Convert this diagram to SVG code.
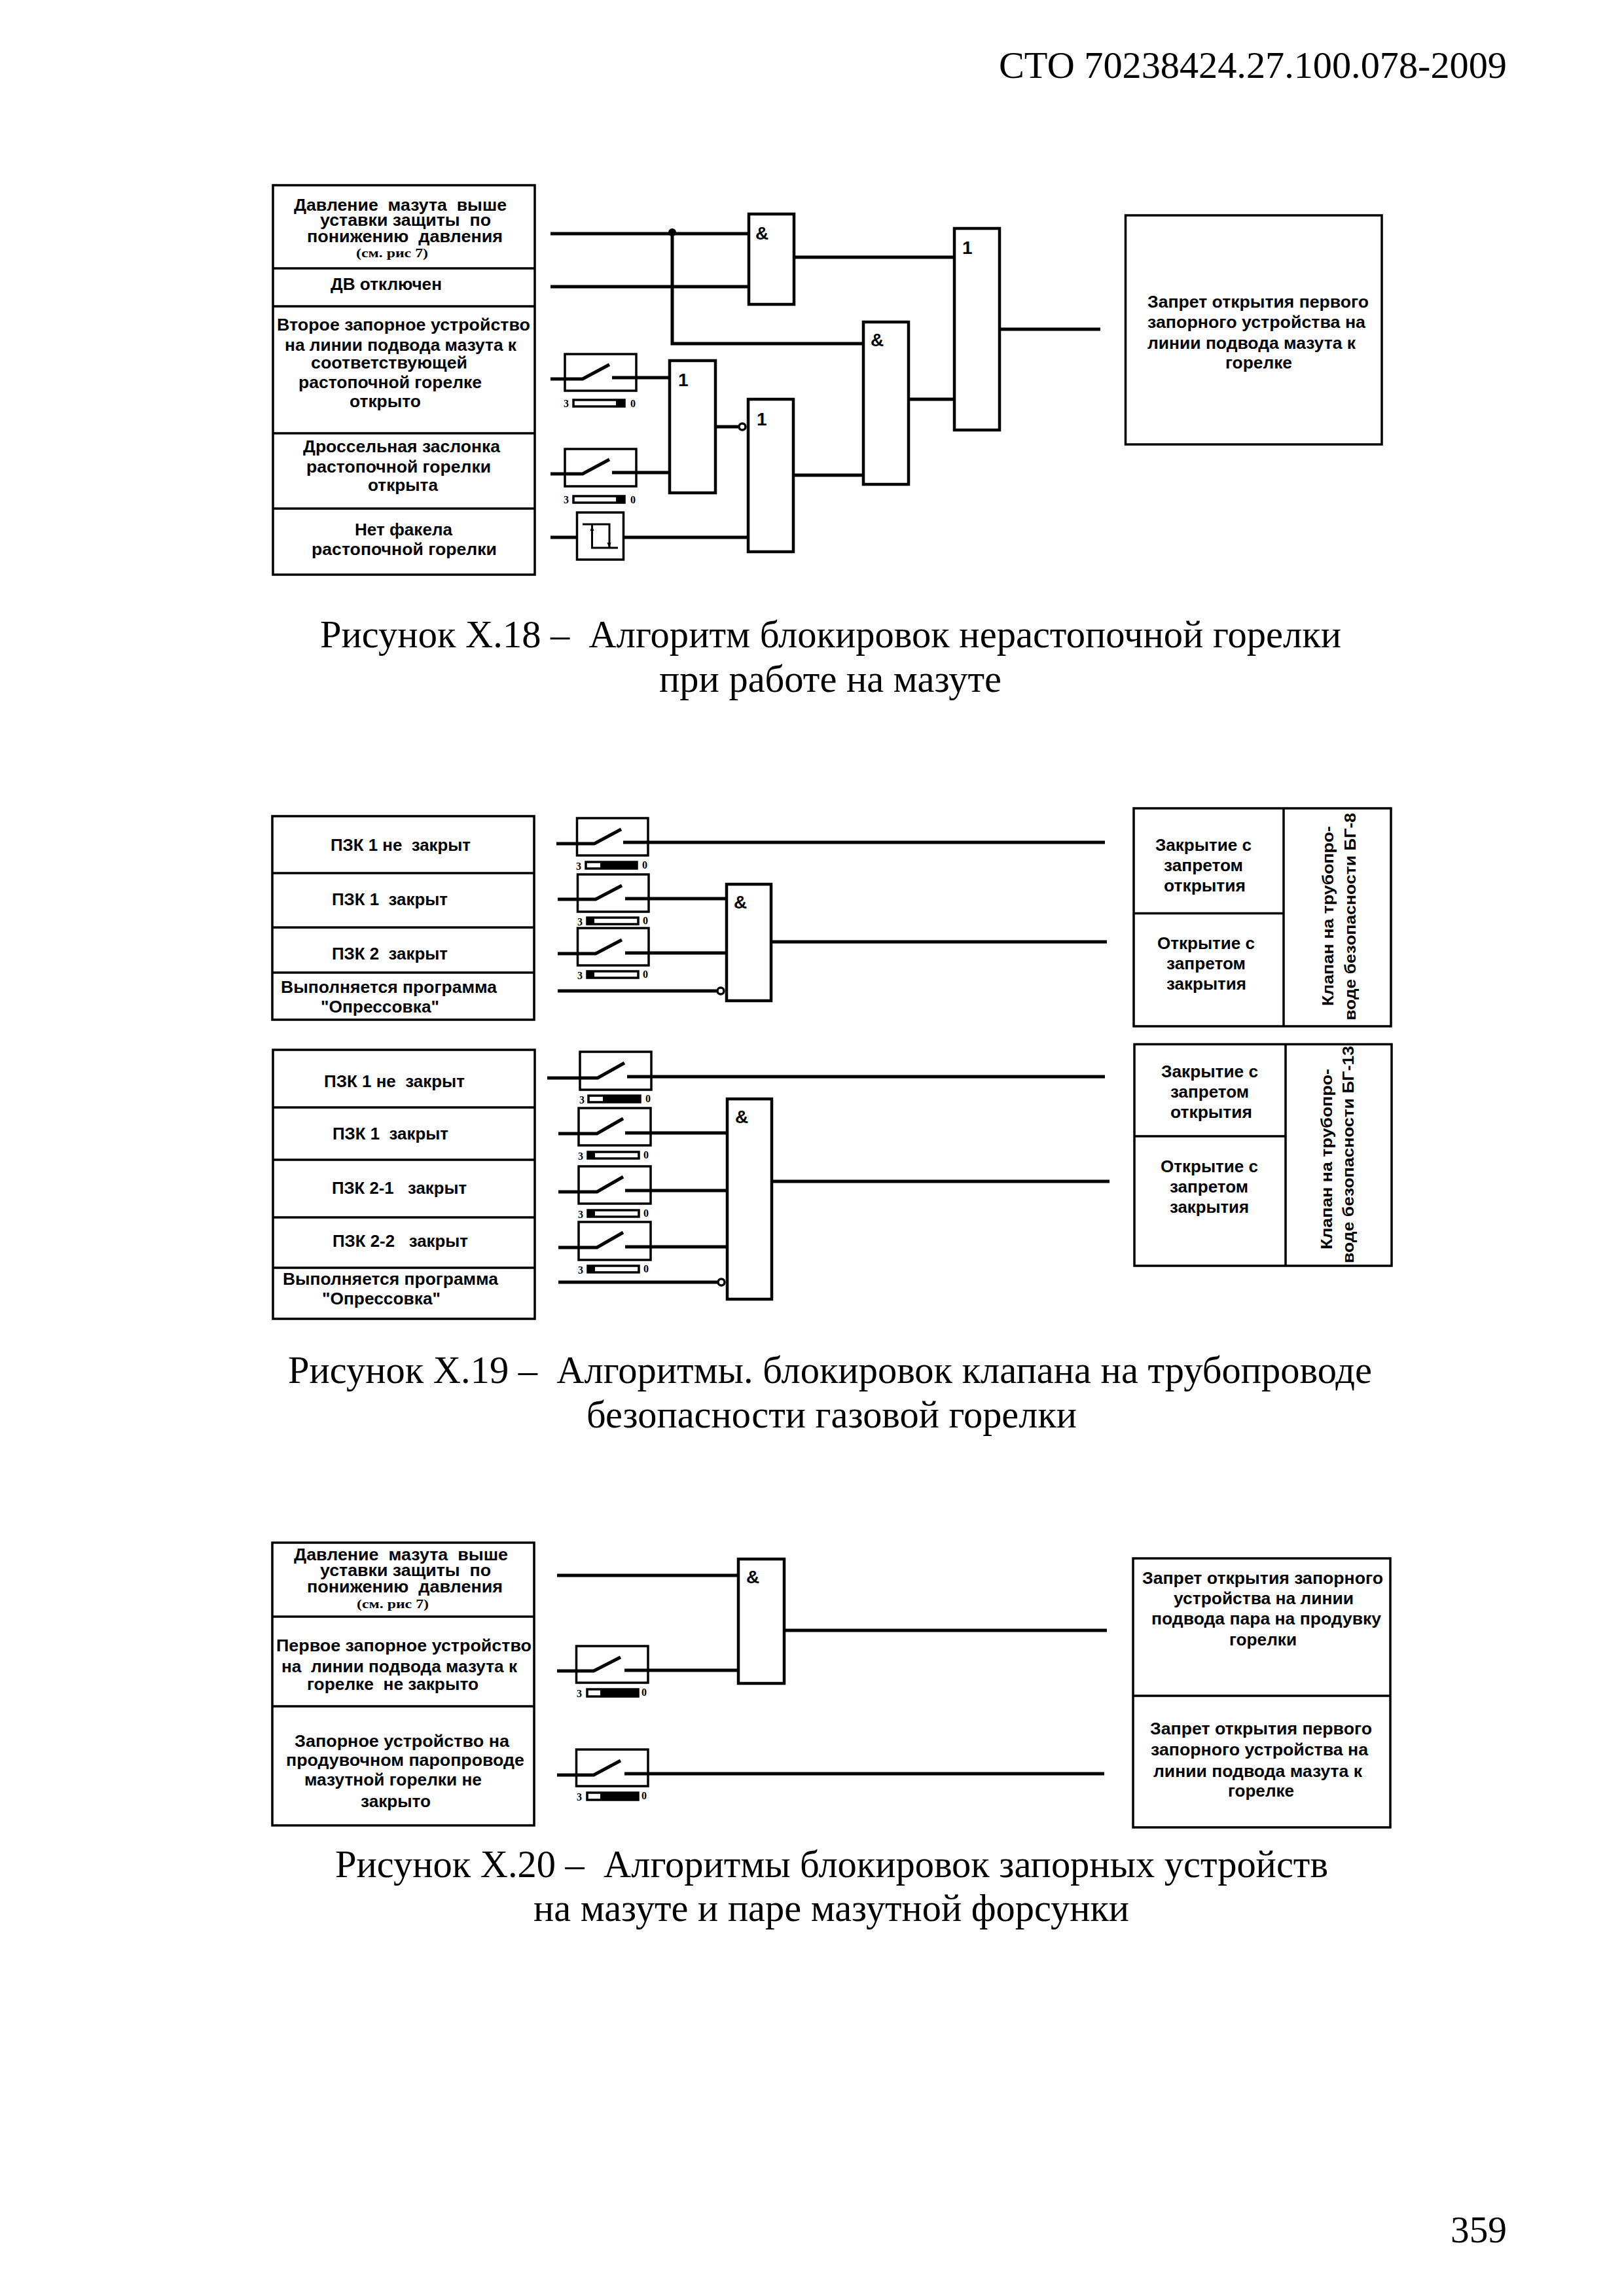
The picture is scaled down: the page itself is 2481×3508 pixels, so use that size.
<svg xmlns="http://www.w3.org/2000/svg" width="2481" height="3508" viewBox="0 0 2481 3508">
<style>
text{white-space:pre;fill:#000}
.s{font-family:"Liberation Sans",Arial,sans-serif;font-weight:700;font-size:26px}
.sm{font-family:"Liberation Sans",Arial,sans-serif;font-weight:700;font-size:24px}
.g{font-family:"Liberation Sans",Arial,sans-serif;font-weight:700;font-size:28px}
.r{font-family:"Liberation Serif","Times New Roman",serif;font-size:58px}
.c{font-family:"Liberation Serif","Times New Roman",serif;font-size:60px}
.n{font-family:"Liberation Serif",serif;font-weight:700;font-size:19px}
.t{font-family:"Liberation Serif",serif;font-weight:700;font-size:16px}
.box{fill:none;stroke:#000;stroke-width:3.5}
.gate{fill:#fff;stroke:#000;stroke-width:4.5}
.sw{fill:none;stroke:#000;stroke-width:3.5}
.ind{fill:#fff;stroke:#000;stroke-width:3.5}
.div{fill:none;stroke:#000;stroke-width:3.5}
.w{fill:none;stroke:#000;stroke-width:5}
.inv{fill:#fff;stroke:#000;stroke-width:3.5}
.thin{fill:none;stroke:#000;stroke-width:3}
</style>
<rect width="2481" height="3508" fill="#fff"/>

<g id="page-header"><text class="r" x="1526" y="119" textLength="776" lengthAdjust="spacingAndGlyphs">СТО 70238424.27.100.078-2009</text></g>
<g id="page-number"><text class="r" x="2216" y="3426" textLength="86" lengthAdjust="spacingAndGlyphs">359</text></g>

<!-- FIGURE X.18 -->
<g id="f18-inputs">
<rect class="box" x="417" y="283" width="400" height="595"/>
<path class="div" d="M417 410H817M417 468H817M417 662H817M417 777H817"/>
<text class="s" x="449" y="322" textLength="325" lengthAdjust="spacingAndGlyphs">Давление  мазута  выше</text>
<text class="s" x="489" y="345" textLength="261" lengthAdjust="spacingAndGlyphs">уставки защиты  по</text>
<text class="s" x="469" y="370" textLength="299" lengthAdjust="spacingAndGlyphs">понижению  давления</text>
<text class="n" x="544" y="393" textLength="110" lengthAdjust="spacingAndGlyphs">(см. рис 7)</text>
<text class="s" x="505" y="443" textLength="170" lengthAdjust="spacingAndGlyphs">ДВ отключен</text>
<text class="s" x="423" y="505" textLength="387" lengthAdjust="spacingAndGlyphs">Второе запорное устройство</text>
<text class="s" x="435" y="536" textLength="354" lengthAdjust="spacingAndGlyphs">на линии подвода мазута к</text>
<text class="s" x="475" y="563" textLength="239" lengthAdjust="spacingAndGlyphs">соответствующей</text>
<text class="s" x="456" y="593" textLength="280" lengthAdjust="spacingAndGlyphs">растопочной горелке</text>
<text class="s" x="534" y="622" textLength="109" lengthAdjust="spacingAndGlyphs">открыто</text>
<text class="s" x="463" y="691" textLength="301" lengthAdjust="spacingAndGlyphs">Дроссельная заслонка</text>
<text class="s" x="468" y="722" textLength="282" lengthAdjust="spacingAndGlyphs">растопочной горелки</text>
<text class="s" x="562" y="750" textLength="107" lengthAdjust="spacingAndGlyphs">открыта</text>
<text class="s" x="542" y="818" textLength="149" lengthAdjust="spacingAndGlyphs">Нет факела</text>
<text class="s" x="476" y="848" textLength="283" lengthAdjust="spacingAndGlyphs">растопочной горелки</text>
</g>
<g id="f18-sw1"><rect class="sw" x="863" y="541" width="109" height="56"/><rect class="ind" x="876" y="611" width="78" height="10"/><rect x="941" y="611" width="14" height="10"/><text class="t" x="861" y="622">3</text><text class="t" x="963" y="622">0</text></g>
<g id="f18-sw2"><rect class="sw" x="863" y="686" width="109" height="57"/><rect class="ind" x="876" y="758" width="78" height="10"/><rect x="941" y="758" width="14" height="10"/><text class="t" x="861" y="769">3</text><text class="t" x="963" y="769">0</text></g>
<g id="f18-flame"><rect class="sw" x="881.500" y="783" width="71" height="72" stroke-width="4"/><path class="thin" d="M890 801H931V837M904.500 801V837H944"/><path d="M904.500 803l-3 8h6zM930.500 837l-3-8h6z"/></g>
<g id="f18-or1"><rect class="gate" x="1023" y="551" width="70" height="202"/><text class="g" x="1036" y="590">1</text></g>
<g id="f18-or2"><rect class="gate" x="1143" y="610" width="69" height="233"/><text class="g" x="1156" y="650">1</text></g>
<g id="f18-and1"><rect class="gate" x="1144" y="327" width="69" height="138"/><text class="g" x="1154" y="366">&amp;</text></g>
<g id="f18-and2"><rect class="gate" x="1319" y="492" width="69" height="248"/><text class="g" x="1330" y="529">&amp;</text></g>
<g id="f18-or3"><rect class="gate" x="1458" y="349" width="69" height="308"/><text class="g" x="1470" y="388">1</text></g>
<g id="f18-output"><rect class="box" x="1719.500" y="329" width="391.500" height="350"/>
<text class="s" x="1753" y="470" textLength="338" lengthAdjust="spacingAndGlyphs">Запрет открытия первого</text>
<text class="s" x="1753" y="501" textLength="333" lengthAdjust="spacingAndGlyphs">запорного устройства на</text>
<text class="s" x="1753" y="533" textLength="318" lengthAdjust="spacingAndGlyphs">линии подвода мазута к</text>
<text class="s" x="1872" y="563" textLength="102" lengthAdjust="spacingAndGlyphs">горелке</text>
</g>
<g id="f18-caption">
<text class="c" x="489" y="989" textLength="1560" lengthAdjust="spacingAndGlyphs">Рисунок Х.18 –  Алгоритм блокировок нерастопочной горелки</text>
<text class="c" x="1007" y="1057" textLength="523" lengthAdjust="spacingAndGlyphs">при работе на мазуте</text>
</g>
<g id="f18-connectors">
<path class="w" d="M841 357H1143M841 438H1143M1027 357V525H1318"/>
<circle cx="1027" cy="355" r="6"/>
<path class="w" d="M841 579H890L931 557M935 577H1023"/>
<path class="w" d="M841 724H890L931 702M935 722H1023"/>
<path class="w" d="M841 821H881M952 821H1143"/>
<path class="w" d="M1093 652H1129"/><circle class="inv" cx="1134" cy="652" r="5"/>
<path class="w" d="M1212 393H1458M1212 726H1318M1388 610H1458M1527 503H1681"/>
</g>

<!-- FIGURE X.19 upper -->
<g id="f19a-inputs">
<rect class="box" x="416" y="1247" width="400" height="311"/>
<path class="div" d="M416 1334H816M416 1417H816M416 1486H816"/>
<text class="s" x="505" y="1300" textLength="214" lengthAdjust="spacingAndGlyphs">ПЗК 1 не  закрыт</text>
<text class="s" x="507" y="1383" textLength="177" lengthAdjust="spacingAndGlyphs">ПЗК 1  закрыт</text>
<text class="s" x="507" y="1466" textLength="177" lengthAdjust="spacingAndGlyphs">ПЗК 2  закрыт</text>
<text class="s" x="429" y="1517" textLength="330" lengthAdjust="spacingAndGlyphs">Выполняется программа</text>
<text class="s" x="490" y="1547" textLength="181" lengthAdjust="spacingAndGlyphs">"Опрессовка"</text>
</g>
<g id="f19a-sw1"><rect class="sw" x="881.500" y="1250" width="108.500" height="57"/><rect class="ind" x="895" y="1317" width="78" height="10"/><rect x="917" y="1317" width="57" height="10"/><text class="t" x="880" y="1329">3</text><text class="t" x="981" y="1327">0</text></g>
<g id="f19a-sw2"><rect class="sw" x="882.500" y="1336" width="108.500" height="57"/><rect class="ind" x="897" y="1402" width="78" height="10"/><rect x="897" y="1402" width="11" height="10"/><text class="t" x="882" y="1414">3</text><text class="t" x="982" y="1412">0</text></g>
<g id="f19a-sw3"><rect class="sw" x="882.500" y="1418" width="108.500" height="57"/><rect class="ind" x="897" y="1484" width="78" height="10"/><rect x="897" y="1484" width="11" height="10"/><text class="t" x="882" y="1496">3</text><text class="t" x="982" y="1494">0</text></g>
<g id="f19a-and"><rect class="gate" x="1110" y="1351" width="68" height="178"/><text class="g" x="1121" y="1388">&amp;</text></g>
<g id="f19a-output">
<rect class="box" x="1732" y="1235" width="393" height="333"/>
<path class="div" d="M1961 1235V1568M1732 1395.500H1961"/>
<text class="s" x="1765" y="1300" textLength="147" lengthAdjust="spacingAndGlyphs">Закрытие с</text>
<text class="s" x="1778" y="1331" textLength="121" lengthAdjust="spacingAndGlyphs">запретом</text>
<text class="s" x="1778" y="1362" textLength="125" lengthAdjust="spacingAndGlyphs">открытия</text>
<text class="s" x="1768" y="1450" textLength="149" lengthAdjust="spacingAndGlyphs">Открытие с</text>
<text class="s" x="1782" y="1481" textLength="121" lengthAdjust="spacingAndGlyphs">запретом</text>
<text class="s" x="1782" y="1512" textLength="122" lengthAdjust="spacingAndGlyphs">закрытия</text>
<text class="sm" transform="translate(2037 1537) rotate(-90)" textLength="275" lengthAdjust="spacingAndGlyphs">Клапан на трубопро-</text>
<text class="sm" transform="translate(2071 1559) rotate(-90)" textLength="317" lengthAdjust="spacingAndGlyphs">воде безопасности БГ-8</text>
</g>
<g id="f19a-connectors">
<path class="w" d="M850 1289H908L949 1267M952 1287H1688"/>
<path class="w" d="M852 1374H910L950 1353M955 1373H1110"/>
<path class="w" d="M852 1457H910L950 1436M955 1456H1110"/>
<path class="w" d="M852 1514H1096"/><circle class="inv" cx="1101" cy="1514" r="5"/>
<path class="w" d="M1178 1439H1691"/>
</g>

<!-- FIGURE X.19 lower -->
<g id="f19b-inputs">
<rect class="box" x="417" y="1604" width="400" height="411"/>
<path class="div" d="M417 1692H817M417 1772H817M417 1860H817M417 1937H817"/>
<text class="s" x="495" y="1661" textLength="215" lengthAdjust="spacingAndGlyphs">ПЗК 1 не  закрыт</text>
<text class="s" x="508" y="1741" textLength="177" lengthAdjust="spacingAndGlyphs">ПЗК 1  закрыт</text>
<text class="s" x="507" y="1824" textLength="206" lengthAdjust="spacingAndGlyphs">ПЗК 2-1   закрыт</text>
<text class="s" x="508" y="1905" textLength="207" lengthAdjust="spacingAndGlyphs">ПЗК 2-2   закрыт</text>
<text class="s" x="432" y="1963" textLength="329" lengthAdjust="spacingAndGlyphs">Выполняется программа</text>
<text class="s" x="492" y="1993" textLength="181" lengthAdjust="spacingAndGlyphs">"Опрессовка"</text>
</g>
<g id="f19b-sw1"><rect class="sw" x="886" y="1607" width="109" height="58"/><rect class="ind" x="899" y="1674" width="79" height="10"/><rect x="921" y="1674" width="58" height="10"/><text class="t" x="885" y="1686">3</text><text class="t" x="986" y="1684">0</text></g>
<g id="f19b-sw2"><rect class="sw" x="884" y="1693" width="110" height="57"/><rect class="ind" x="898" y="1760" width="78" height="10"/><rect x="898" y="1760" width="11" height="10"/><text class="t" x="883" y="1772">3</text><text class="t" x="983" y="1770">0</text></g>
<g id="f19b-sw3"><rect class="sw" x="884" y="1782" width="110" height="57"/><rect class="ind" x="898" y="1849" width="78" height="10"/><rect x="898" y="1849" width="11" height="10"/><text class="t" x="883" y="1861">3</text><text class="t" x="983" y="1859">0</text></g>
<g id="f19b-sw4"><rect class="sw" x="884" y="1867" width="110" height="58"/><rect class="ind" x="898" y="1934" width="78" height="10"/><rect x="898" y="1934" width="11" height="10"/><text class="t" x="883" y="1946">3</text><text class="t" x="983" y="1944">0</text></g>
<g id="f19b-and"><rect class="gate" x="1111" y="1679" width="68" height="306"/><text class="g" x="1123" y="1716">&amp;</text></g>
<g id="f19b-output">
<rect class="box" x="1733" y="1595.500" width="393" height="338.500"/>
<path class="div" d="M1964 1595.500V1934M1733 1736H1964"/>
<text class="s" x="1774" y="1646" textLength="148" lengthAdjust="spacingAndGlyphs">Закрытие с</text>
<text class="s" x="1788" y="1677" textLength="120" lengthAdjust="spacingAndGlyphs">запретом</text>
<text class="s" x="1788" y="1708" textLength="125" lengthAdjust="spacingAndGlyphs">открытия</text>
<text class="s" x="1773" y="1791" textLength="149" lengthAdjust="spacingAndGlyphs">Открытие с</text>
<text class="s" x="1787" y="1822" textLength="120" lengthAdjust="spacingAndGlyphs">запретом</text>
<text class="s" x="1787" y="1853" textLength="121" lengthAdjust="spacingAndGlyphs">закрытия</text>
<text class="sm" transform="translate(2035 1909) rotate(-90)" textLength="276" lengthAdjust="spacingAndGlyphs">Клапан на трубопро-</text>
<text class="sm" transform="translate(2068 1930) rotate(-90)" textLength="332" lengthAdjust="spacingAndGlyphs">воде безопасности БГ-13</text>
</g>
<g id="f19b-connectors">
<path class="w" d="M836 1647H913L954 1624M958 1645H1688"/>
<path class="w" d="M853 1732H912L952 1709M955 1731H1111"/>
<path class="w" d="M853 1821H912L952 1798M955 1819H1111"/>
<path class="w" d="M853 1906H912L952 1883M955 1905H1111"/>
<path class="w" d="M853 1959H1097"/><circle class="inv" cx="1102" cy="1959" r="5"/>
<path class="w" d="M1179 1805H1695"/>
</g>
<g id="f19-caption">
<text class="c" x="440" y="2113" textLength="1656" lengthAdjust="spacingAndGlyphs">Рисунок Х.19 –  Алгоритмы. блокировок клапана на трубопроводе</text>
<text class="c" x="896" y="2181" textLength="749" lengthAdjust="spacingAndGlyphs">безопасности газовой горелки</text>
</g>

<!-- FIGURE X.20 -->
<g id="f20-inputs">
<rect class="box" x="416" y="2357" width="400" height="432"/>
<path class="div" d="M416 2470H816M416 2607H816"/>
<text class="s" x="449" y="2384" textLength="327" lengthAdjust="spacingAndGlyphs">Давление  мазута  выше</text>
<text class="s" x="489" y="2408" textLength="261" lengthAdjust="spacingAndGlyphs">уставки защиты  по</text>
<text class="s" x="469" y="2433" textLength="299" lengthAdjust="spacingAndGlyphs">понижению  давления</text>
<text class="n" x="545" y="2457" textLength="110" lengthAdjust="spacingAndGlyphs">(см. рис 7)</text>
<text class="s" x="422" y="2523" textLength="390" lengthAdjust="spacingAndGlyphs">Первое запорное устройство</text>
<text class="s" x="430" y="2555" textLength="360" lengthAdjust="spacingAndGlyphs">на  линии подвода мазута к</text>
<text class="s" x="469" y="2582" textLength="262" lengthAdjust="spacingAndGlyphs">горелке  не закрыто</text>
<text class="s" x="450" y="2669" textLength="328" lengthAdjust="spacingAndGlyphs">Запорное устройство на</text>
<text class="s" x="437" y="2698" textLength="364" lengthAdjust="spacingAndGlyphs">продувочном паропроводе</text>
<text class="s" x="465" y="2728" textLength="271" lengthAdjust="spacingAndGlyphs">мазутной горелки не</text>
<text class="s" x="551" y="2761" textLength="107" lengthAdjust="spacingAndGlyphs">закрыто</text>
</g>
<g id="f20-sw1"><rect class="sw" x="880.500" y="2515" width="109.500" height="56"/><rect class="ind" x="897" y="2581" width="78" height="11"/><rect x="917" y="2581" width="58" height="11"/><text class="t" x="881" y="2593">3</text><text class="t" x="980" y="2591">0</text></g>
<g id="f20-sw2"><rect class="sw" x="880.500" y="2673" width="109.500" height="56"/><rect class="ind" x="897" y="2739" width="78" height="11"/><rect x="917" y="2739" width="58" height="11"/><text class="t" x="881" y="2751">3</text><text class="t" x="980" y="2749">0</text></g>
<g id="f20-and"><rect class="gate" x="1128" y="2382" width="70" height="190"/><text class="g" x="1140" y="2419">&amp;</text></g>
<g id="f20-output">
<rect class="box" x="1731" y="2381" width="393" height="411"/>
<path class="div" d="M1731 2591H2124"/>
<text class="s" x="1745" y="2420" textLength="368" lengthAdjust="spacingAndGlyphs">Запрет открытия запорного</text>
<text class="s" x="1793" y="2451" textLength="275" lengthAdjust="spacingAndGlyphs">устройства на линии</text>
<text class="s" x="1759" y="2482" textLength="351" lengthAdjust="spacingAndGlyphs">подвода пара на продувку</text>
<text class="s" x="1878" y="2514" textLength="103" lengthAdjust="spacingAndGlyphs">горелки</text>
<text class="s" x="1757" y="2650" textLength="339" lengthAdjust="spacingAndGlyphs">Запрет открытия первого</text>
<text class="s" x="1758" y="2682" textLength="332" lengthAdjust="spacingAndGlyphs">запорного устройства на</text>
<text class="s" x="1762" y="2715" textLength="319" lengthAdjust="spacingAndGlyphs">линии подвода мазута к</text>
<text class="s" x="1876" y="2745" textLength="101" lengthAdjust="spacingAndGlyphs">горелке</text>
</g>
<g id="f20-connectors">
<path class="w" d="M851 2407H1128M1198 2491H1691"/>
<path class="w" d="M851 2553H907L948 2532M954 2552H1128"/>
<path class="w" d="M851 2712H907L948 2690M954 2710H1687"/>
</g>
<g id="f20-caption">
<text class="c" x="512" y="2868" textLength="1517" lengthAdjust="spacingAndGlyphs">Рисунок Х.20 –  Алгоритмы блокировок запорных устройств</text>
<text class="c" x="815" y="2935" textLength="910" lengthAdjust="spacingAndGlyphs">на мазуте и паре мазутной форсунки</text>
</g>
</svg>
